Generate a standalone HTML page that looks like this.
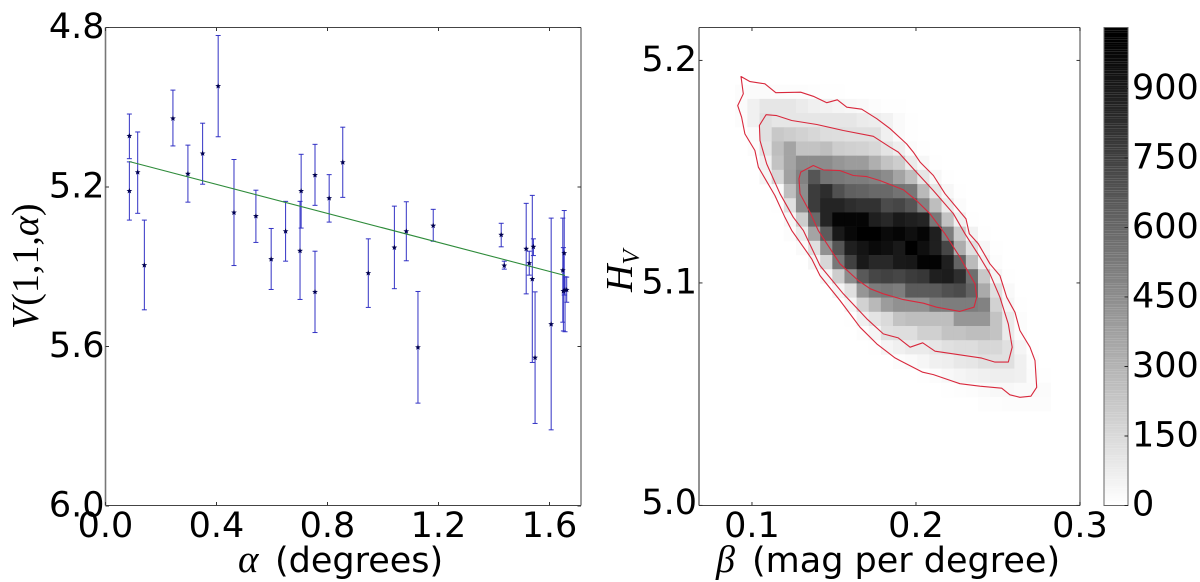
<!DOCTYPE html>
<html lang="en">
<head>
<meta charset="utf-8">
<title>Phase curve fit and posterior density</title>
<style>
html,body{margin:0;padding:0;background:#fff;}
svg{display:block;font-family:"DejaVu Sans","Liberation Sans",sans-serif;}
.serif{font-family:"Liberation Serif",serif;}
</style>
</head>
<body>
<svg id="figure" xmlns="http://www.w3.org/2000/svg" width="1200" height="582" viewBox="0 0 1200 582">
<rect x="0" y="0" width="1200" height="582" fill="#fff"/>
<g id="left-panel"></g>
<g id="right-panel"></g>
<g id="colorbar"></g>
<text y="572" font-size="35" fill="#000"><tspan class="serif" font-style="italic" font-size="39" x="238">α</tspan><tspan x="275">(degrees)</tspan></text>
<text class="serif" transform="translate(38,329) rotate(-90)" font-size="38" fill="#000"><tspan font-style="italic">V</tspan>(1,1,<tspan font-style="italic">α</tspan>)</text>
<text y="572" font-size="35" fill="#000"><tspan class="serif" font-style="italic" font-size="38" x="716">β</tspan><tspan x="752">(mag per degree)</tspan></text>
<text class="serif" transform="translate(632,292) rotate(-90)" font-size="38" fill="#000"><tspan font-style="italic">H</tspan><tspan font-style="italic" font-size="24" dy="7">V</tspan></text>
</svg>
<script>
// ---------- left panel data ----------
var alphaValues = [0.086,0.086,0.116,0.140,0.243,0.297,0.350,0.406,0.463,0.542,0.597,0.649,0.701,0.705,0.755,0.755,0.806,0.855,0.947,1.041,1.084,1.126,1.181,1.426,1.437,1.516,1.527,1.538,1.542,1.548,1.606,1.648,1.653,1.650,1.662,1.656];
var magnitudes = [5.072,5.210,5.163,5.396,5.028,5.167,5.116,4.947,5.264,5.273,5.381,5.311,5.360,5.210,5.170,5.463,5.228,5.138,5.416,5.352,5.311,5.602,5.297,5.320,5.397,5.355,5.391,5.431,5.350,5.628,5.544,5.409,5.366,5.461,5.458,5.458];
var magnitudeUpper = [5.017,5.137,5.062,5.283,4.957,5.095,5.040,4.820,5.131,5.208,5.304,5.236,5.236,5.118,5.093,5.361,5.169,5.050,5.330,5.248,5.237,5.462,5.256,5.291,5.386,5.241,5.361,5.221,5.330,5.463,5.278,5.278,5.259,5.352,5.426,5.425];
var magnitudeLower = [5.129,5.283,5.266,5.508,5.097,5.238,5.193,5.074,5.397,5.339,5.457,5.386,5.482,5.303,5.246,5.565,5.288,5.226,5.502,5.455,5.385,5.742,5.336,5.350,5.406,5.468,5.421,5.640,5.372,5.793,5.809,5.539,5.471,5.561,5.489,5.563];
var fitAlpha = [0.085,1.656];
var fitMagnitude = [5.136,5.422];
var leftXTicks = [0.0,0.4,0.8,1.2,1.6];
var leftYTicks = [4.8,5.2,5.6,6.0];

// ---------- right panel data ----------
var betaBinStart = 0.0898;
var betaBinWidth = 0.0074;
var hBinTop = 5.1891;
var hBinHeight = 0.00638;
var rightXTicks = [0.1,0.2,0.3];
var rightYTicks = [5.2,5.1,5.0];
var colorbarTicks = [0,150,300,450,600,750,900];
var densityRows = [
[12,15,15,12,12,10,8,5,3,0,0,0,0,0,0,0,0,0,0,0,0,0,0,0,0,0,0],
[15,60,100,100,100,80,60,50,40,30,22,12,5,2,0,0,0,0,0,0,0,0,0,0,0,0,0],
[10,60,120,100,100,100,100,100,100,100,80,70,50,20,5,0,0,0,0,0,0,0,0,0,0,0,0],
[0,20,120,215,195,175,155,135,130,120,120,120,60,20,5,0,0,0,0,0,0,0,0,0,0,0,0],
[0,10,105,255,355,235,235,255,195,185,175,155,105,65,15,3,0,0,0,0,0,0,0,0,0,0,0],
[0,0,60,235,355,450,450,450,410,390,390,315,235,195,80,30,3,0,0,0,0,0,0,0,0,0,0],
[0,0,40,155,370,490,665,550,530,510,510,490,450,355,255,100,30,3,0,0,0,0,0,0,0,0,0],
[0,0,0,20,255,450,765,825,685,625,610,590,590,550,530,275,100,30,3,0,0,0,0,0,0,0,0],
[0,0,0,5,120,450,765,860,860,825,805,805,705,725,665,490,255,80,15,0,0,0,0,0,0,0,0],
[0,0,0,0,30,195,590,860,980,980,980,880,845,900,880,860,530,235,60,3,0,0,0,0,0,0,0],
[0,0,0,0,10,80,355,645,900,970,1000,1000,960,980,940,980,880,510,205,50,3,0,0,0,0,0,0],
[0,0,0,0,0,20,120,430,665,880,920,960,940,900,1000,940,880,725,320,120,30,3,0,0,0,0,0],
[0,0,0,0,0,0,40,155,530,745,900,845,845,900,910,990,990,880,610,265,60,10,0,0,0,0,0],
[0,0,0,0,0,0,0,40,195,450,650,725,745,725,765,785,880,890,820,570,215,40,3,0,0,0,0],
[0,0,0,0,0,0,0,0,40,120,410,510,530,510,645,645,645,685,705,610,335,120,25,0,0,0,0],
[0,0,0,0,0,0,0,0,0,40,175,275,390,430,430,430,510,510,510,510,490,175,40,3,0,0,0],
[0,0,0,0,0,0,0,0,0,5,60,105,145,235,255,255,255,255,410,410,410,235,80,12,0,0,0],
[0,0,0,0,0,0,0,0,0,0,10,40,120,130,130,185,185,235,235,255,255,235,80,12,0,0,0],
[0,0,0,0,0,0,0,0,0,0,0,5,40,60,80,80,100,120,135,135,155,155,120,40,5,0,0],
[0,0,0,0,0,0,0,0,0,0,0,0,0,10,20,35,60,65,90,100,120,120,120,60,10,0,0],
[0,0,0,0,0,0,0,0,0,0,0,0,0,0,0,5,12,28,40,50,60,65,65,60,15,5,0],
[0,0,0,0,0,0,0,0,0,0,0,0,0,0,0,0,0,5,8,12,20,28,28,20,20,15,0],
[0,0,0,0,0,0,0,0,0,0,0,0,0,0,0,0,0,0,0,0,8,8,10,10,10,10,0]
];
var outerContourBeta = [.0933,.0988,.1079,.1145,.1297,.1374,.1456,.1520,.1578,.1669,.1761,.1842,.1943,.1984,.2025,.2106,.2177,.2305,.2325,.2380,.2451,.2512,.2553,.2604,.2634,.2695,.2726,.2736,.2701,.2634,.2573,.2523,.2390,.2268,.2106,.2041,.1903,.1872,.1761,.1659,.1537,.1415,.1364,.1242,.1201,.1140,.1039,.1018,.0957,.0937,.0913,.0947];
var outerContourH = [5.1928,5.1905,5.1895,5.1855,5.1857,5.1839,5.1810,5.1823,5.1790,5.1781,5.1738,5.1693,5.1625,5.1588,5.1543,5.1483,5.1401,5.1288,5.1221,5.1176,5.1086,5.1033,5.0936,5.0868,5.0786,5.0711,5.0651,5.0531,5.0491,5.0486,5.0497,5.0527,5.0536,5.0547,5.0588,5.0599,5.0651,5.0663,5.0726,5.0801,5.0921,5.1033,5.1108,5.1236,5.1295,5.1393,5.1520,5.1595,5.1670,5.1745,5.1797,5.1850];
var middleContourBeta = [.1086,.1151,.1242,.1395,.1557,.1740,.1842,.1892,.1994,.2106,.2228,.2299,.2390,.2451,.2512,.2563,.2587,.2563,.2482,.2401,.2116,.2041,.1964,.1892,.1801,.1700,.1557,.1415,.1313,.1252,.1171,.1090,.1049,.1045];
var middleContourH = [5.1756,5.1752,5.1730,5.1712,5.1685,5.1659,5.1610,5.1588,5.1505,5.1415,5.1311,5.1221,5.1116,5.1041,5.0936,5.0816,5.0711,5.0644,5.0644,5.0662,5.0693,5.0731,5.0711,5.0753,5.0771,5.0839,5.0951,5.1078,5.1236,5.1295,5.1401,5.1535,5.1640,5.1708];
var innerContourBeta = [.1297,.1374,.1435,.1537,.1618,.1700,.1781,.1923,.2004,.2085,.2177,.2268,.2360,.2370,.2354,.2268,.2126,.2045,.1923,.1801,.1720,.1648,.1537,.1404,.1354,.1293,.1287];
var innerContourH = [5.1498,5.1528,5.1508,5.1505,5.1483,5.1478,5.1460,5.1419,5.1370,5.1311,5.1221,5.1116,5.0996,5.0936,5.0891,5.0872,5.0891,5.0909,5.0925,5.0951,5.0974,5.1011,5.1086,5.1236,5.1318,5.1401,5.1468];

// ---------- axis functions ----------
var NS = 'http://www.w3.org/2000/svg';
var L = {x0:105.5,x1:581,y0:27.5,y1:505.5};
var R = {x0:699,x1:1080,y0:27.5,y1:505.5};
var C = {x0:1104,x1:1128,y0:27.5,y1:505.5};
var leftX = function(a){return L.x0 + a * 277.5;};
var leftY = function(v){return L.y0 + (v - 4.8) * 398.75;};
var rightX = function(b){return R.x0 + (b - 0.0677) * 1640;};
var rightY = function(h){return R.y0 + (5.2148 - h) * 2225;};
var barY = function(c){return C.y1 - c * 0.4633;};
var grayOf = function(c){var g = Math.round(255 * (1 - Math.min(c, 1000) / 1000)); return 'rgb(' + g + ',' + g + ',' + g + ')';};

function make(tag, attrs, parent, text){
  var e = document.createElementNS(NS, tag);
  for (var k in attrs) e.setAttribute(k, attrs[k]);
  if (text !== undefined) e.textContent = text;
  parent.appendChild(e);
  return e;
}
function starPath(cx, cy, ro, ri){
  var d = '';
  for (var i = 0; i < 10; i++){
    var r = i % 2 ? ri : ro, t = -Math.PI / 2 + i * Math.PI / 5;
    d += (i ? 'L' : 'M') + (cx + r * Math.cos(t)).toFixed(2) + ' ' + (cy + r * Math.sin(t)).toFixed(2);
  }
  return d + 'Z';
}
function frame(parent, b, name){
  var sides = [[b.x0,b.y0,b.x0,b.y1,'#777',1.6],[b.x1,b.y0,b.x1,b.y1,'#777',1.4],[b.x0,b.y0,b.x1,b.y0,'#444',1],[b.x0,b.y1,b.x1,b.y1,'#444',1]];
  sides.forEach(function(s){
    var ln = make('line',{x1:s[0],y1:s[1],x2:s[2],y2:s[3],stroke:s[4],'stroke-width':s[5]},parent);
    
    
  });
}

// ---------- left panel ----------
var lp = document.getElementById('left-panel');
alphaValues.forEach(function(a, i){
  var x = leftX(a);
  var top = leftY(magnitudeUpper[i]), bot = leftY(magnitudeLower[i]);
  var g = make('g',{stroke:'#3232c4','stroke-width':1,fill:'none'},lp);
  
  
  make('line',{x1:x,y1:top,x2:x,y2:bot},g);
  make('line',{x1:x-2.5,y1:top,x2:x+2.5,y2:top},g);
  make('line',{x1:x-2.5,y1:bot,x2:x+2.5,y2:bot},g);
});
var fit = make('line',{x1:leftX(fitAlpha[0]),y1:leftY(fitMagnitude[0]),x2:leftX(fitAlpha[1]),y2:leftY(fitMagnitude[1]),stroke:'#2e8b3a','stroke-width':1.1},lp);


alphaValues.forEach(function(a, i){
  var s = make('path',{d:starPath(leftX(a),leftY(magnitudes[i]),3,1.3),fill:'#000050'},lp);
  
  
});
frame(lp, L, 'left-axes');
leftXTicks.forEach(function(t){
  var x = leftX(t);
  var a = make('line',{x1:x,y1:L.y1,x2:x,y2:L.y1-3.5,stroke:'#333'},lp);
  
  
  var b = make('line',{x1:x,y1:L.y0,x2:x,y2:L.y0+3.5,stroke:'#333'},lp);
  
  
  var l = make('text',{x:x,y:537,'text-anchor':'middle','font-size':35,fill:'#000'},lp,t.toFixed(1));
  
  
});
leftYTicks.forEach(function(t){
  var y = leftY(t);
  var a = make('line',{x1:L.x0,y1:y,x2:L.x0+3.5,y2:y,stroke:'#333'},lp);
  
  
  var b = make('line',{x1:L.x1,y1:y,x2:L.x1-3.5,y2:y,stroke:'#333'},lp);
  
  
  var l = make('text',{x:104.5,y:y+10.5,'text-anchor':'end','font-size':35,fill:'#000'},lp,t.toFixed(1));
  
  
});

// ---------- right panel ----------
var rp = document.getElementById('right-panel');
densityRows.forEach(function(row, r){
  row.forEach(function(c, k){
    if (!c) return;
    var xa = rightX(betaBinStart + k * betaBinWidth), xb = rightX(betaBinStart + (k + 1) * betaBinWidth);
    var ya = rightY(hBinTop - r * hBinHeight), yb = rightY(hBinTop - (r + 1) * hBinHeight);
    var cell = make('rect',{x:xa.toFixed(2),y:ya.toFixed(2),width:(xb-xa+0.3).toFixed(2),height:(yb-ya+0.3).toFixed(2),fill:grayOf(c)},rp);
    
    
  });
});
function contour(betas, hs, name){
  var pts = betas.map(function(b, i){return rightX(b).toFixed(1) + ',' + rightY(hs[i]).toFixed(1);}).join(' ');
  var p = make('polygon',{points:pts,fill:'none',stroke:'#d8283c','stroke-width':1.1,'stroke-linejoin':'round'},rp);
  
  
}
contour(outerContourBeta, outerContourH, 'outer-contour');
contour(middleContourBeta, middleContourH, 'middle-contour');
contour(innerContourBeta, innerContourH, 'inner-contour');
frame(rp, R, 'right-axes');
rightXTicks.forEach(function(t){
  var x = rightX(t);
  var a = make('line',{x1:x,y1:R.y1,x2:x,y2:R.y1-3.5,stroke:'#333'},rp);
  
  
  var b = make('line',{x1:x,y1:R.y0,x2:x,y2:R.y0+3.5,stroke:'#333'},rp);
  
  
  var l = make('text',{x:x,y:537,'text-anchor':'middle','font-size':35,fill:'#000'},rp,t.toFixed(1));
  
  
});
rightYTicks.forEach(function(t){
  var y = rightY(t);
  var a = make('line',{x1:R.x0,y1:y,x2:R.x0+3.5,y2:y,stroke:'#333'},rp);
  
  
  var b = make('line',{x1:R.x1,y1:y,x2:R.x1-3.5,y2:y,stroke:'#333'},rp);
  
  
  var l = make('text',{x:697,y:y+10.5-(t===5.0?2:0),'text-anchor':'end','font-size':35,fill:'#000'},rp,t.toFixed(1));
  
  
});

// ---------- colorbar ----------
var cb = document.getElementById('colorbar');
var levels = 200, span = 1031;
for (var n = 0; n < levels; n++){
  var cLow = n * span / levels, cHigh = (n + 1) * span / levels;
  var band = make('rect',{x:C.x0,y:barY(cHigh),width:C.x1-C.x0,height:barY(cLow)-barY(cHigh),fill:grayOf(cLow)},cb);
  
  
}
var cbBox = make('rect',{x:C.x0,y:C.y0,width:C.x1-C.x0,height:C.y1-C.y0,fill:'none',stroke:'#666','stroke-width':1},cb);


colorbarTicks.forEach(function(t){
  var y = barY(t);
  var a = make('line',{x1:C.x1,y1:y,x2:C.x1-3.5,y2:y,stroke:'#222'},cb);
  
  
  var l = make('text',{x:1132,y:y+(t===0?10:10.5),'font-size':35,fill:'#000'},cb,String(t));
  
  
});
</script>
</body>
</html>
